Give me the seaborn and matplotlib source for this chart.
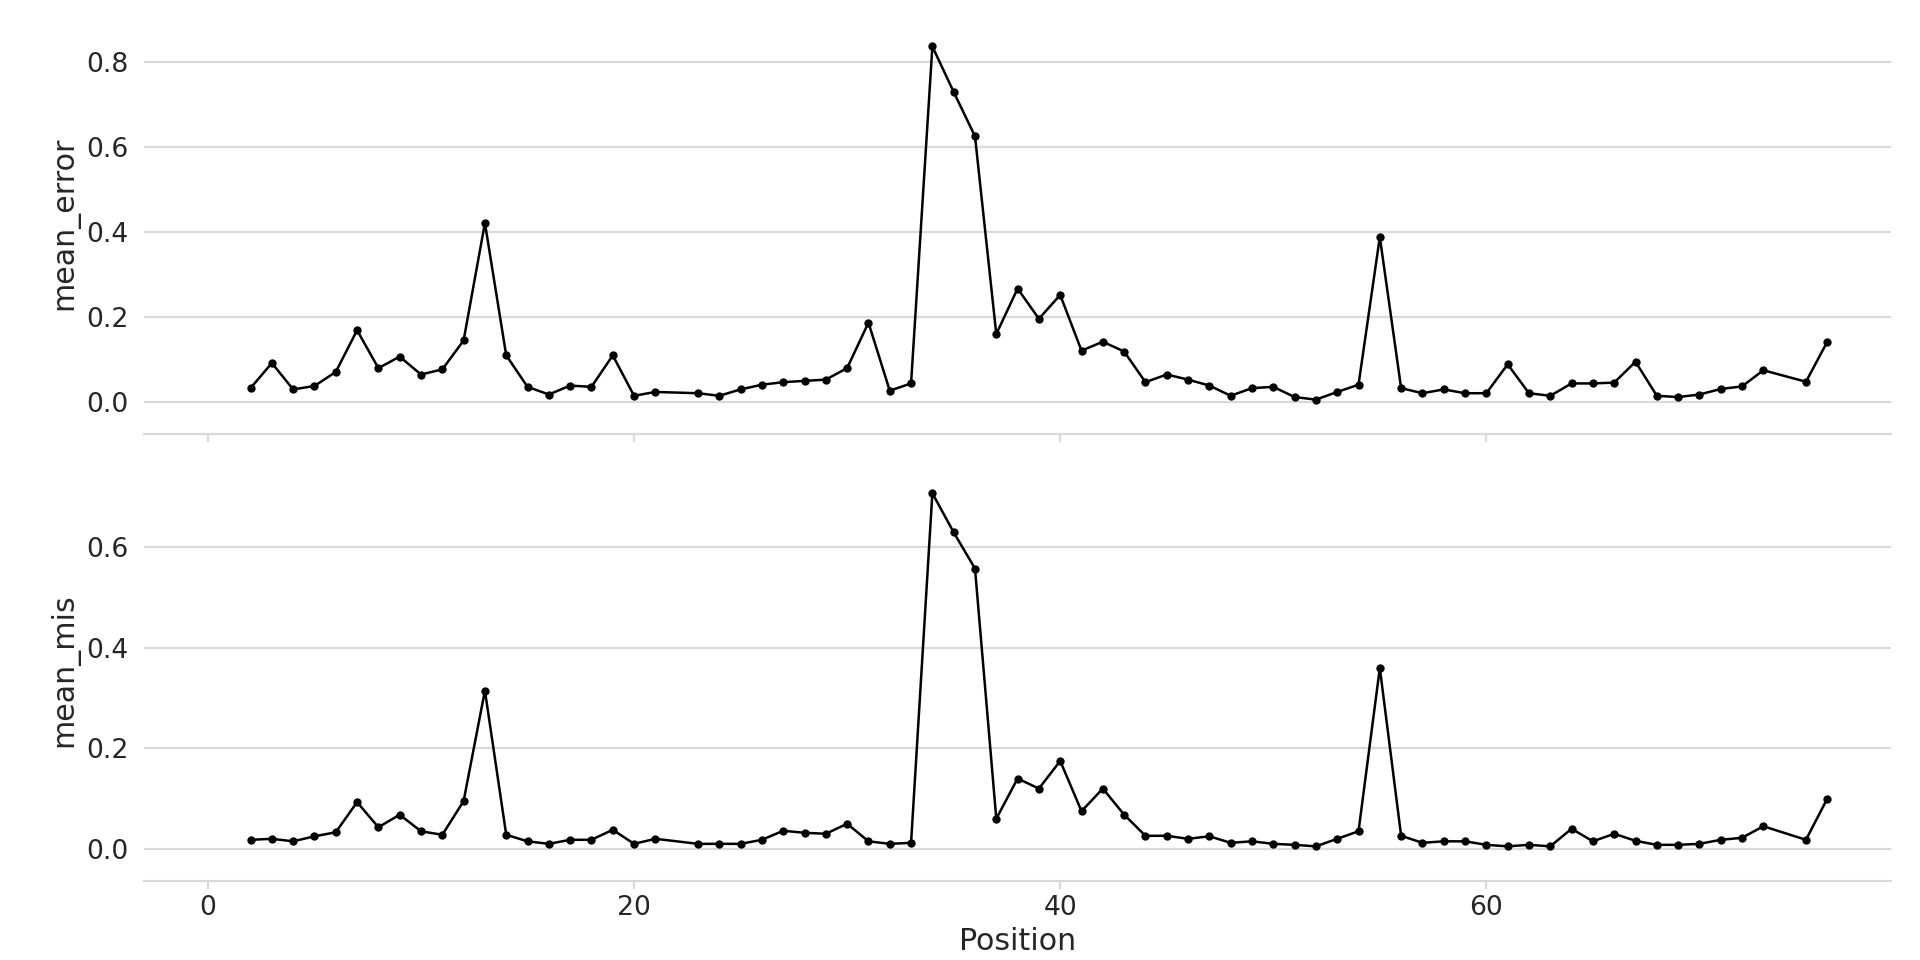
import matplotlib
matplotlib.use("Agg")
import matplotlib.pyplot as plt
import seaborn as sns
import pandas as pd

position = list(range(2, 22)) + list(range(23, 74)) + [75, 76]
mean_error = [0.033, 0.092, 0.030, 0.038, 0.071, 0.169, 0.080, 0.107, 0.065, 0.077,
              0.145, 0.421, 0.110, 0.036, 0.018, 0.039, 0.036, 0.110, 0.015, 0.024,
              0.021, 0.015, 0.030, 0.041, 0.047, 0.050, 0.053, 0.080, 0.187, 0.027,
              0.044, 0.836, 0.729, 0.625, 0.160, 0.267, 0.196, 0.252, 0.121, 0.142,
              0.119, 0.047, 0.065, 0.053, 0.039, 0.015, 0.033, 0.036, 0.012, 0.006,
              0.024, 0.041, 0.388, 0.033, 0.021, 0.030, 0.021, 0.021, 0.089, 0.021,
              0.015, 0.044, 0.044, 0.046, 0.095, 0.015, 0.012, 0.018, 0.031, 0.037,
              0.075, 0.048, 0.142]
mean_mis = [0.018, 0.020, 0.015, 0.025, 0.033, 0.093, 0.043, 0.068, 0.035, 0.028,
            0.095, 0.315, 0.028, 0.015, 0.010, 0.018, 0.018, 0.038, 0.010, 0.020,
            0.010, 0.010, 0.010, 0.018, 0.036, 0.032, 0.030, 0.050, 0.015, 0.010,
            0.012, 0.708, 0.630, 0.558, 0.060, 0.140, 0.120, 0.175, 0.075, 0.120,
            0.068, 0.026, 0.026, 0.020, 0.025, 0.012, 0.015, 0.010, 0.008, 0.005,
            0.020, 0.035, 0.360, 0.026, 0.012, 0.015, 0.015, 0.008, 0.005, 0.008,
            0.005, 0.040, 0.015, 0.030, 0.016, 0.008, 0.008, 0.010, 0.018, 0.022,
            0.045, 0.018, 0.100]

df = pd.DataFrame({"Position": position, "mean_error": mean_error, "mean_mis": mean_mis})

sns.set_theme(style="white")
plt.rcParams['font.family'] = ['DejaVu Sans']
fig, axes = plt.subplots(2, 1, figsize=(16, 8), dpi=120, sharex=True)
fig.subplots_adjust(left=0.075, right=0.985, top=0.97, bottom=0.1, hspace=0.15)

for ax, col in zip(axes, ["mean_error", "mean_mis"]):
    sns.lineplot(data=df, x="Position", y=col, ax=ax, color="black", linewidth=1.5,
                 marker="o", markersize=5, markeredgewidth=0)
    ax.grid(axis="y", color="#d9d9d9", linewidth=1.3)
    ax.grid(axis="x", visible=False)
    for s in ["top", "right", "left"]:
        ax.spines[s].set_visible(False)
    ax.spines["bottom"].set_color("#d9d9d9")
    ax.spines["bottom"].set_linewidth(1.3)
    ax.spines["bottom"].set_position(("outward", 10))
    ax.tick_params(axis="x", bottom=True, color="#d9d9d9", length=5, width=1.3, labelsize=16)
    ax.tick_params(axis="y", labelsize=16, left=False)
    ax.set_ylabel(col, fontsize=18)
    ax.set_xlim(-3, 79)

axes[0].set_yticks([0.0, 0.2, 0.4, 0.6, 0.8])
axes[1].set_yticks([0.0, 0.2, 0.4, 0.6])
axes[0].set_xlabel("")
axes[1].set_xlabel("Position", fontsize=18)
axes[1].set_xticks([0, 20, 40, 60])
fig.savefig("out.png")
